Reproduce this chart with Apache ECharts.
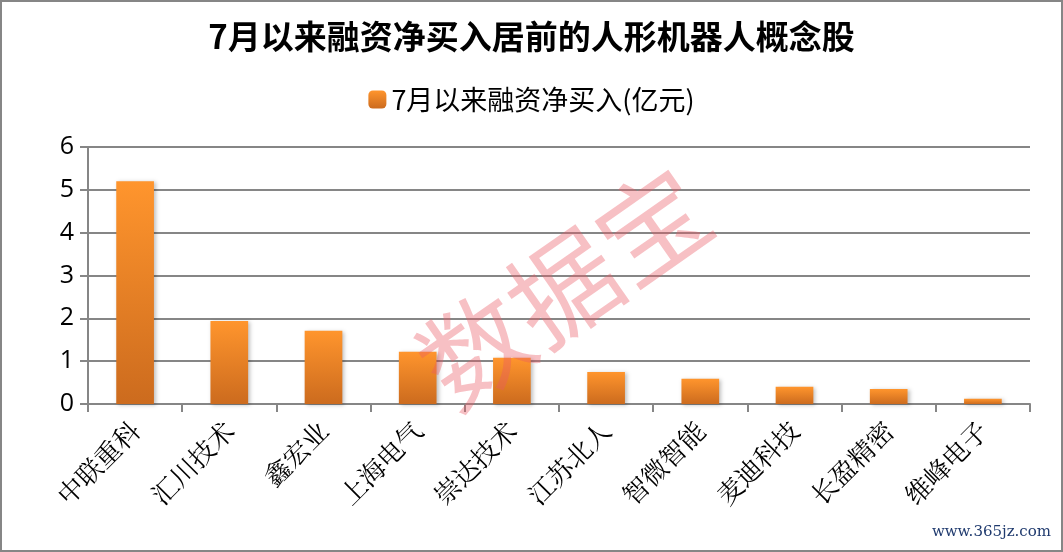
<!DOCTYPE html>
<html lang="zh">
<head>
    <meta charset="UTF-8">
    <title>7月以来融资净买入居前的人形机器人概念股</title>
    <script src="https://cdn.jsdelivr.net/npm/echarts@6/dist/echarts.min.js"></script>
    <style>
        html, body { margin: 0; padding: 0; background: #fff; }
        #chart { width: 1063px; height: 552px; box-sizing: border-box; border: 2px solid #868686; }
    </style>
</head>
<body>
    <div id="chart"></div>
    <script>
        // data
        const stocks = ['中联重科', '汇川技术', '鑫宏业', '上海电气', '崇达技术', '江苏北人', '智微智能', '麦迪科技', '长盈精密', '维峰电子'];
        const netBuy = [5.20, 1.94, 1.71, 1.22, 1.08, 0.75, 0.59, 0.40, 0.35, 0.12];
        const seriesName = '7月以来融资净买入(亿元)';

        const chart = echarts.init(document.getElementById('chart'));

        const barColor = new echarts.graphic.LinearGradient(0, 0, 0, 1, [
            { offset: 0, color: '#ff952d' },
            { offset: 1, color: '#cc6b1e' }
        ]);

        chart.setOption({
            animation: false,
            title: {
                text: '7月以来融资净买入居前的人形机器人概念股',
                left: 'center',
                top: 13,
                textStyle: { fontSize: 33, fontWeight: 'bold', color: '#000', fontFamily: 'Noto Sans CJK SC' }
            },
            legend: {
                top: 79,
                left: 'center',
                itemWidth: 18,
                itemHeight: 18,
                itemGap: 8,
                textStyle: { fontSize: 27, color: '#000', fontFamily: 'Noto Sans CJK SC' },
                data: [seriesName]
            },
            grid: { left: 86, right: 31, top: 145, bottom: 146 },
            xAxis: {
                type: 'category',
                data: stocks,
                axisLine: { lineStyle: { color: '#868686', width: 2 } },
                axisTick: { show: true, length: 8, lineStyle: { color: '#868686', width: 2 } },
                axisLabel: {
                    rotate: 45,
                    interval: 0,
                    margin: 22,
                    fontSize: 26,
                    color: '#000',
                    fontFamily: 'Noto Serif CJK SC, Noto Sans CJK SC, serif'
                }
            },
            yAxis: {
                type: 'value',
                min: 0,
                max: 6,
                interval: 1,
                axisLine: { show: true, lineStyle: { color: '#868686', width: 2 } },
                axisTick: { show: true, length: 8, lineStyle: { color: '#868686', width: 2 } },
                splitLine: { lineStyle: { color: '#868686', width: 2 } },
                axisLabel: { fontSize: 25, color: '#000', margin: 14, fontFamily: 'Open Sans' }
            },
            series: [{
                name: seriesName,
                type: 'bar',
                data: netBuy,
                barWidth: '40%',
                itemStyle: {
                    color: barColor,
                    shadowColor: 'rgba(0,0,0,0.25)',
                    shadowBlur: 4,
                    shadowOffsetX: 2,
                    shadowOffsetY: 1
                }
            }],
            graphic: [
                {
                    type: 'text',
                    left: 398,
                    top: 148,
                    rotation: Math.PI * 35 / 180,
                    originX: 160,
                    originY: 115,
                    z: 100,
                    style: {
                        text: '数据宝',
                        fontSize: 108,
                        fontFamily: 'Noto Sans CJK SC',
                        fill: 'rgba(235, 90, 100, 0.38)'
                    }
                },
                {
                    type: 'text',
                    right: 10,
                    bottom: 10,
                    style: {
                        text: 'www.365jz.com',
                        fontSize: 15,
                        fontFamily: 'DejaVu Serif',
                        fill: '#1f3a6e'
                    }
                }
            ]
        });
    </script>
</body>
</html>
